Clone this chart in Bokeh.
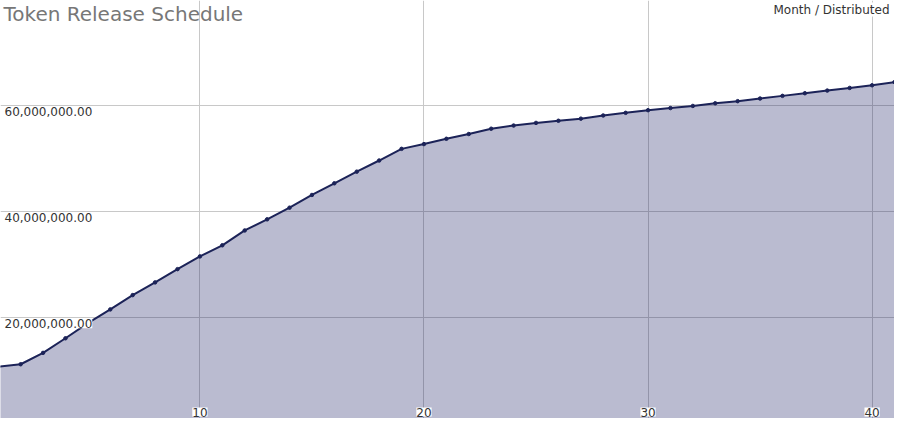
from bokeh.plotting import figure
from bokeh.models import ColumnDataSource, Grid, FixedTicker, Label, LabelSet, Range1d
from bokeh.core.properties import value
from bokeh.embed import file_html
from bokeh.resources import INLINE

months = list(range(1, 42))
distributed = [
    10.7, 11.15, 13.3, 16.05, 18.9, 21.5, 24.2, 26.6, 29.1, 31.5,
    33.6, 36.4, 38.5, 40.7, 43.1, 45.3, 47.5, 49.6, 51.8, 52.7,
    53.7, 54.6, 55.6, 56.2, 56.7, 57.1, 57.5, 58.1, 58.6, 59.1,
    59.5, 59.9, 60.4, 60.8, 61.3, 61.8, 62.3, 62.8, 63.3, 63.8, 64.4,
]
distributed = [v * 1_000_000 for v in distributed]

x_ticks = [10, 20, 30, 40]
x_tick_labels = ["10", "20", "30", "40"]
y_ticks = [20_000_000, 40_000_000, 60_000_000]
y_tick_labels = ["20,000,000.00", "40,000,000.00", "60,000,000.00"]

title_text = "Token Release Schedule"
legend_text = "Month / Distributed"

W, H = 894, 418
FONT = "DejaVu Sans"
LINE = "#1c2358"

src = ColumnDataSource(dict(month=months, dist=distributed))

p = figure(width=W, height=H, output_backend="svg", toolbar_location=None,
           x_axis_location=None, y_axis_location=None,
           x_range=Range1d(1.1, 41.0), y_range=Range1d(0.91e6, 79.8e6),
           min_border=0, outline_line_color=None)
p.background_fill_color = "white"
p.border_fill_color = "white"
p.center = [r for r in p.center if not isinstance(r, Grid)]

xg = Grid(dimension=0, ticker=FixedTicker(ticks=x_ticks), grid_line_color="#c8c8c8", grid_line_width=1)
yg = Grid(dimension=1, ticker=FixedTicker(ticks=y_ticks), grid_line_color="#c8c8c8", grid_line_width=1)
p.add_layout(xg)
p.add_layout(yg)

p.varea(x="month", y1=0, y2="dist", source=src, fill_color="#1b1f63", fill_alpha=0.3)
p.line(x="month", y="dist", source=src, line_color=LINE, line_width=2)
p.scatter(x="month", y="dist", source=src, size=3.5, fill_color=LINE, line_color=LINE)

ysrc = ColumnDataSource(dict(y=y_ticks, t=y_tick_labels, x=[4] * len(y_ticks)))
p.add_layout(LabelSet(x="x", y="y", text="t", source=ysrc, x_units="screen", y_units="data",
                      y_offset=-2, text_baseline="top", text_align="left",
                      text_font=value(FONT), text_font_size=value("12px"), text_color="#333333",
                      background_fill_color="white", background_fill_alpha=1.0))

xsrc = ColumnDataSource(dict(x=x_ticks, t=x_tick_labels, y=[2] * len(x_ticks)))
p.add_layout(LabelSet(x="x", y="y", text="t", source=xsrc, x_units="data", y_units="screen",
                      text_baseline="bottom", text_align="center",
                      text_font=value(FONT), text_font_size=value("12px"), text_color="#333333",
                      background_fill_color="white", background_fill_alpha=1.0))

p.add_layout(Label(x=3, y=H - 1, x_units="screen", y_units="screen", text=title_text,
                   text_baseline="top", text_align="left", text_font=FONT,
                   text_font_size="20px", text_color="#777777"))
p.add_layout(Label(x=W - 5, y=H - 2, x_units="screen", y_units="screen", text=legend_text,
                   text_baseline="top", text_align="right", text_font=FONT,
                   text_font_size="12px", text_color="#333333",
                   background_fill_color="white", background_fill_alpha=1.0))

open("out.html", "w").write(file_html(p, INLINE))
